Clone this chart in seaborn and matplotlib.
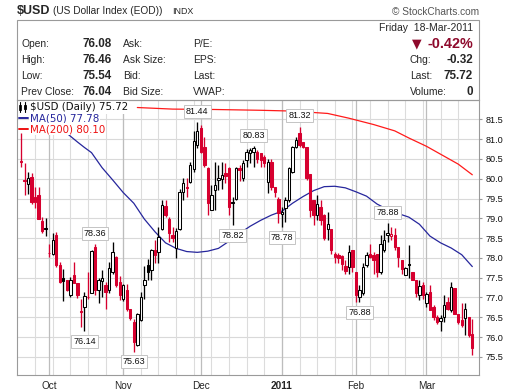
import numpy as np
import pandas as pd
import matplotlib
matplotlib.use("Agg")
import matplotlib.pyplot as plt
import matplotlib.patches as mpatches
import matplotlib.lines as mlines
import seaborn as sns

sns.set_style("white")
plt.rcParams["font.family"] = ["Liberation Sans", "DejaVu Sans"]

# daily sessions on the chart (Tue 21-Sep-2010 .. Fri 18-Mar-2011)
dates = pd.bdate_range("2010-09-21", "2011-03-18")

opens = [80.46, 79.97, 79.86, 80.05, 79.55, 79.59, 78.93, 78.76, 78.13, 78.11,
         78.57, 77.82, 77.50, 77.44, 77.06, 77.56, 77.37, 76.66, 76.76, 77.02,
         77.12, 78.28, 77.20, 77.42, 77.31, 77.20, 77.65, 78.03, 77.40, 76.95,
         77.18, 76.70, 76.38, 75.79, 76.43, 77.31, 77.82, 77.69, 78.20, 78.15,
         78.74, 79.31, 78.99, 78.57, 78.24, 78.74, 79.67, 79.79, 79.92, 80.25,
         80.85, 81.27, 80.81, 80.26, 79.21, 79.71, 79.97, 80.00, 80.15, 80.26,
         79.42, 79.50, 80.27, 80.01, 80.47, 80.66, 80.68, 80.68, 80.64, 80.55,
         79.92, 80.43, 79.80, 79.50, 79.10, 79.25, 79.46, 80.18, 80.81, 81.16,
         80.93, 80.81, 80.13, 79.46, 79.08, 79.29, 79.08, 78.74, 78.74, 78.11,
         78.07, 78.05, 77.80, 77.77, 78.20, 77.65, 77.02, 77.10, 77.82, 78.11,
         78.07, 78.11, 77.65, 78.20, 78.58, 78.55, 78.57, 78.28, 77.94, 77.56,
         77.85, 77.65, 77.44, 77.06, 77.31, 76.85, 77.15, 76.75, 76.51, 76.40,
         76.51, 76.89, 76.68, 77.23, 76.59, 76.43, 76.47, 76.51, 76.08]
highs = [81.15, 80.40, 80.17, 80.14, 79.80, 79.80, 79.04, 79.01, 78.36, 78.62,
         78.66, 77.90, 77.71, 77.44, 77.52, 77.90, 77.37, 76.97, 77.14, 77.65,
         78.20, 78.36, 77.50, 77.69, 77.40, 77.90, 78.40, 78.05, 77.55, 77.35,
         77.35, 76.70, 76.45, 76.60, 77.15, 77.80, 77.98, 78.22, 78.45, 78.79,
         79.46, 79.46, 79.04, 78.79, 78.75, 79.75, 80.01, 80.01, 80.43, 81.20,
         81.44, 81.36, 81.06, 80.30, 79.84, 80.43, 80.35, 80.43, 80.40, 80.30,
         79.55, 80.30, 80.35, 80.47, 80.75, 80.78, 80.83, 80.72, 80.66, 80.60,
         80.51, 80.51, 79.80, 79.55, 79.29, 79.54, 80.30, 80.84, 81.06, 81.32,
         80.93, 80.81, 80.13, 79.46, 79.59, 79.46, 79.12, 79.16, 78.74, 78.16,
         78.12, 78.07, 77.94, 78.32, 78.20, 77.65, 77.31, 77.86, 78.15, 78.36,
         78.15, 78.11, 78.57, 78.70, 78.88, 78.79, 78.75, 78.28, 77.94, 77.78,
         78.32, 77.65, 77.44, 77.44, 77.40, 77.14, 77.31, 76.80, 76.55, 76.55,
         77.06, 77.02, 77.39, 77.23, 76.59, 76.85, 76.85, 76.51, 76.46]
lows = [80.30, 79.59, 79.62, 79.37, 79.25, 78.99, 78.64, 78.55, 78.03, 78.08,
        77.77, 77.37, 76.91, 77.16, 77.02, 77.37, 76.98, 76.26, 76.14, 76.95,
        77.10, 77.05, 76.85, 77.00, 76.72, 77.10, 77.60, 77.27, 76.93, 76.90,
        76.65, 76.42, 75.63, 75.78, 76.40, 76.95, 77.44, 77.45, 77.86, 77.86,
        78.70, 79.04, 78.41, 78.41, 78.00, 78.70, 79.46, 79.54, 79.88, 80.18,
        80.78, 80.64, 80.30, 79.08, 79.21, 79.21, 79.71, 79.75, 79.90, 79.08,
        78.82, 79.46, 79.95, 79.95, 80.30, 80.40, 80.30, 80.40, 80.30, 80.30,
        79.63, 79.71, 79.55, 78.87, 78.78, 78.91, 79.42, 80.14, 80.77, 80.81,
        80.77, 79.96, 79.04, 78.83, 78.96, 78.83, 78.45, 78.45, 78.11, 77.86,
        77.86, 77.69, 77.60, 77.60, 77.65, 76.89, 76.88, 77.06, 77.77, 78.00,
        77.60, 77.52, 77.60, 78.15, 78.40, 78.45, 78.20, 77.77, 77.60, 77.56,
        77.48, 77.44, 77.01, 76.93, 76.95, 76.76, 76.68, 76.43, 76.34, 76.15,
        76.38, 76.68, 76.64, 76.59, 76.34, 76.26, 76.05, 76.00, 75.54]
closes = [80.43, 79.95, 80.02, 79.41, 79.40, 78.99, 78.68, 78.72, 78.12, 78.46,
          77.82, 77.39, 77.42, 77.18, 77.45, 77.37, 77.06, 76.64, 77.04, 77.00,
          78.18, 77.18, 77.44, 77.48, 77.15, 77.75, 78.15, 77.31, 77.06, 77.31,
          76.70, 76.47, 75.88, 76.59, 77.02, 77.45, 77.65, 78.20, 78.07, 78.53,
          79.33, 79.08, 78.62, 78.49, 78.68, 79.67, 79.90, 79.77, 80.34, 80.95,
          81.20, 80.68, 80.35, 79.38, 79.59, 79.84, 80.03, 80.10, 80.08, 79.29,
          79.38, 80.26, 80.22, 80.39, 80.68, 80.72, 80.78, 80.51, 80.48, 80.40,
          80.43, 79.80, 79.67, 79.13, 79.16, 79.46, 80.26, 80.81, 80.99, 80.85,
          80.81, 80.01, 79.21, 79.08, 79.36, 78.96, 78.49, 78.85, 78.20, 78.03,
          77.99, 77.85, 77.68, 78.15, 77.76, 77.06, 77.18, 77.77, 78.07, 78.03,
          77.94, 77.65, 78.36, 78.45, 78.62, 78.60, 78.28, 78.03, 77.73, 77.75,
          77.82, 77.44, 77.10, 77.29, 77.06, 77.08, 76.68, 76.50, 76.38, 76.48,
          76.80, 76.72, 77.27, 76.59, 76.38, 76.30, 76.72, 76.04, 75.72]

# moving averages (session index, value)
ma50_idx = [13, 16, 18, 20, 23, 26, 29, 32, 35, 38, 41, 44, 47, 50, 53, 56, 59, 62,
            65, 68, 71, 74, 77, 80, 83, 86, 89, 92, 95, 98, 101, 104, 107, 110, 113,
            116, 119, 122, 125, 128]
ma50_val = [81.15, 80.93, 80.79, 80.66, 80.28, 79.97, 79.65, 79.38, 78.98, 78.66,
            78.38, 78.24, 78.16, 78.14, 78.17, 78.24, 78.42, 78.62, 78.80, 78.95,
            79.08, 79.18, 79.38, 79.55, 79.70, 79.80, 79.81, 79.77, 79.67, 79.56,
            79.36, 79.22, 79.12, 79.03, 78.85, 78.55, 78.38, 78.25, 78.08, 77.78]
ma200_idx = [33, 43, 55, 68, 77, 87, 93, 100, 106, 110, 115, 119, 124, 128]
ma200_val = [81.80, 81.76, 81.75, 81.73, 81.71, 81.65, 81.53, 81.37, 81.21, 81.03,
             80.82, 80.62, 80.37, 80.10]

# annotated swing points
label_idx = [18, 21, 32, 50, 60, 66, 74, 79, 96, 104]
label_kind = ["low", "high", "low", "high", "low", "high", "low", "high", "low", "high"]

y_ticks = [75.5, 76.0, 76.5, 77.0, 77.5, 78.0, 78.5, 79.0, 79.5, 80.0, 80.5, 81.0, 81.5]
month_labels = ["Oct", "Nov", "Dec", "2011", "Feb", "Mar"]

RED = "#d6002f"
W, H = 520, 391


def fx(px):
    return px / W


def fy(py):
    return 1 - py / H


fig = plt.figure(figsize=(5.2, 3.91), dpi=100)
ax = fig.add_axes([fx(17), fy(375), 462 / W, 275 / H])

o, h, l, c = map(np.array, (opens, highs, lows, closes))
x = np.arange(len(dates))

# grid: weekly lines on mondays, darker lines at month starts
month_pos = [i for i in range(1, len(dates)) if dates[i].month != dates[i - 1].month]
monday_pos = [i for i, d in enumerate(dates) if d.weekday() == 0]
for yv in y_ticks:
    ax.axhline(yv, color="#d9d9d9", lw=0.8, zorder=0)
for p in monday_pos:
    ax.axvline(p, color="#dcdcdc", lw=0.8, zorder=0)
for p in month_pos:
    ax.axvline(p, color="#bdbdbd", lw=0.9, zorder=0)

# moving averages
sns.lineplot(x=ma200_idx, y=ma200_val, ax=ax, color="#ff1a1a", lw=0.9, zorder=2)
sns.lineplot(x=ma50_idx, y=ma50_val, ax=ax, color="#26269c", lw=0.9, zorder=2)

# candles: red when close below prior close, filled when close below open
prev = np.r_[c[0] + 1, c[:-1]]
col = np.where(c >= prev, "black", RED)
face = np.where(c < o, col, "white")
ax.vlines(x, l, h, colors=col, lw=0.95, zorder=3)
body_lo = np.minimum(o, c)
body_h = np.maximum(np.abs(c - o), 0.015)
ax.bar(x, body_h, bottom=body_lo, width=0.68, color=face, edgecolor=col,
       linewidth=0.75, zorder=4)

for i, kind in zip(label_idx, label_kind):
    v = h[i] if kind == "high" else l[i]
    dy = 7.6 if kind == "high" else -7.2
    ax.annotate(f"{v:.2f}", (i, v), xytext=(0, dy), textcoords="offset points",
                ha="center", va="center", fontsize=6.5, color="#111111",
                bbox=dict(boxstyle="square,pad=0.22", fc="white", ec="#c4c4c4", lw=0.7),
                zorder=6)

ax.set_xlim(-1.13, 129.9)
ax.set_ylim(75.04, 81.99)
ax.set_xlabel("")
ax.set_ylabel("")

ax.yaxis.tick_right()
ax.set_yticks(y_ticks)
ax.set_yticklabels([f"{v:.1f}" for v in y_ticks], fontsize=6.6)
ax.set_xticks(month_pos)
ax.set_xticklabels(month_labels, fontsize=7.2)
ax.get_xticklabels()[3].set_fontweight("bold")
ax.set_xticks(x, minor=True)
ax.tick_params(axis="y", length=2, pad=2.5, color="#999999", colors="#111111")
ax.tick_params(axis="x", which="major", length=2, pad=2.5, color="#999999")
ax.tick_params(axis="x", which="minor", length=1.5, width=0.5, color="#aaaaaa")
for s in ax.spines.values():
    s.set_color("#9a9a9a")
    s.set_linewidth(0.8)

# title line
fig.text(fx(17), fy(11.5), "$USD", fontsize=9, fontweight="bold", va="center")
fig.text(fx(53), fy(11.5), "(US Dollar Index (EOD))", fontsize=7.3, va="center")
fig.text(fx(172), fy(11.5), "INDX", fontsize=6.4, va="center")
fig.text(fx(479), fy(12), "\u00a9 StockCharts.com", fontsize=7.3, va="center",
         ha="right", color="#555555")

# quote box
fig.add_artist(mpatches.Rectangle((fx(17), fy(100)), 462 / W, 80 / H, fill=False,
                                  edgecolor="#9a9a9a", lw=0.8, transform=fig.transFigure))
fig.text(fx(473), fy(28), "Friday  18-Mar-2011", fontsize=7.5, ha="right", va="center")

rows_y = [43.7, 60, 76, 91.7]
left_lab = ["Open:", "High:", "Low:", "Prev Close:"]
left_val = ["76.08", "76.46", "75.54", "76.04"]
mid_lab = ["Ask:", "Ask Size:", "Bid:", "Bid Size:"]
mid2_lab = ["P/E:", "EPS:", "Last:", "VWAP:"]
for yy, a, b, m, n in zip(rows_y, left_lab, left_val, mid_lab, mid2_lab):
    fig.text(fx(21), fy(yy), a, fontsize=7.4, va="center")
    fig.text(fx(112), fy(yy), b, fontsize=8.4, fontweight="bold", va="center", ha="right")
    fig.text(fx(123), fy(yy), m, fontsize=7.4, va="center")
    fig.text(fx(193), fy(yy), n, fontsize=7.4, va="center")

fig.text(fx(417), fy(43.5), "\u25bc", fontsize=9, color="#8e0a2c", ha="center", va="center",
         family="DejaVu Sans")
fig.text(fx(473), fy(43.5), "-0.42%", fontsize=10.4, fontweight="bold", color="#8e0a2c",
         ha="right", va="center")
for yy, a, b in zip(rows_y[1:], ["Chg:", "Last:", "Volume:"], ["-0.32", "75.72", "0"]):
    fig.text(fx(410), fy(yy), a, fontsize=7.4, va="center")
    fig.text(fx(473), fy(yy), b, fontsize=8.4, fontweight="bold", va="center", ha="right")

# legend in the plot corner
leg_font = dict(fontsize=7.4, va="center", family="DejaVu Sans",
                bbox=dict(boxstyle="square,pad=0.1", fc="white", ec="none"))
fig.text(fx(30), fy(107.5), "$USD (Daily) 75.72", color="#111111", **leg_font)
fig.text(fx(30), fy(118.3), "MA(50) 77.78", color="#26269c", **leg_font)
fig.text(fx(30), fy(129.2), "MA(200) 80.10", color="#ee1111", **leg_font)
fig.add_artist(mlines.Line2D([fx(20), fx(20)], [fy(102), fy(112)], color="black", lw=0.8))
fig.add_artist(mpatches.Rectangle((fx(19), fy(110)), 2 / W, 5 / H, fc="white", ec="black",
                                  lw=0.6, transform=fig.transFigure))
fig.add_artist(mlines.Line2D([fx(25), fx(25)], [fy(102), fy(112)], color="black", lw=0.8))
fig.add_artist(mpatches.Rectangle((fx(24), fy(109)), 2 / W, 4 / H, fc="black", ec="black",
                                  lw=0.6, transform=fig.transFigure))
fig.add_artist(mlines.Line2D([fx(19), fx(28)], [fy(118.3), fy(118.3)], color="#26269c", lw=1.4))
fig.add_artist(mlines.Line2D([fx(19), fx(28)], [fy(129.2), fy(129.2)], color="#ee1111", lw=1.4))

fig.savefig("out.png", dpi=100)
